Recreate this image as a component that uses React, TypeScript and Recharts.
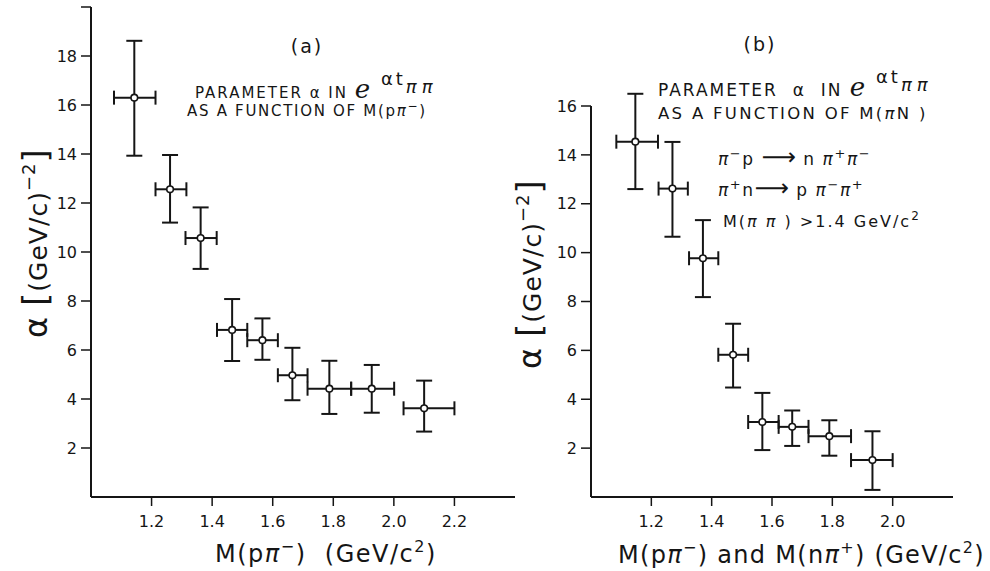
import React from 'react';
import { ScatterChart, Scatter, XAxis, YAxis, ErrorBar } from 'recharts';

// (a) alpha as a function of M(p pi-)
const massA = [1.143, 1.261, 1.362, 1.466, 1.566, 1.665, 1.787, 1.927, 2.1];
const massLowA = [1.076, 1.213, 1.312, 1.416, 1.516, 1.617, 1.715, 1.859, 2.032];
const massHighA = [1.213, 1.315, 1.415, 1.516, 1.617, 1.715, 1.859, 2.001, 2.2];
const alphaA = [16.3, 12.56, 10.57, 6.82, 6.4, 4.97, 4.42, 4.42, 3.62];
const alphaLowA = [13.93, 11.2, 9.31, 5.55, 5.6, 3.95, 3.39, 3.44, 2.67];
const alphaHighA = [18.62, 13.96, 11.82, 8.08, 7.29, 6.09, 5.56, 5.39, 4.75];

// (b) alpha as a function of M(pi N)
const massB = [1.147, 1.27, 1.371, 1.471, 1.568, 1.667, 1.79, 1.933];
const massLowB = [1.084, 1.224, 1.325, 1.422, 1.521, 1.622, 1.721, 1.862];
const massHighB = [1.222, 1.321, 1.422, 1.521, 1.622, 1.721, 1.862, 2.0];
const alphaB = [14.54, 12.62, 9.77, 5.82, 3.07, 2.87, 2.49, 1.51];
const alphaLowB = [12.6, 10.65, 8.18, 4.48, 1.92, 2.09, 1.69, 0.29];
const alphaHighB = [16.5, 14.53, 11.33, 7.09, 4.26, 3.54, 3.14, 2.69];

const ticksXA = [1.2, 1.4, 1.6, 1.8, 2.0, 2.2];
const ticksXB = [1.2, 1.4, 1.6, 1.8, 2.0];
const ticksYA = [2, 4, 6, 8, 10, 12, 14, 16, 18, 20];
const ticksYB = [2, 4, 6, 8, 10, 12, 14, 16];

const FONT = '"DejaVu Sans", sans-serif';
const INK = '#151515';

const toPoints = (x: number[], xl: number[], xh: number[], y: number[], yl: number[], yh: number[]) =>
  x.map((v, i) => ({
    x: v,
    y: y[i],
    ex: [v - xl[i], xh[i] - v],
    ey: [y[i] - yl[i], yh[i] - y[i]],
  }));

const dataA = toPoints(massA, massLowA, massHighA, alphaA, alphaLowA, alphaHighA);
const dataB = toPoints(massB, massLowB, massHighB, alphaB, alphaLowB, alphaHighB);

const OpenDot = (props: any) => {
  const { cx, cy } = props;
  if (cx == null || cy == null) return null;
  return <circle cx={cx} cy={cy} r={3.3} fill="#fff" stroke={INK} strokeWidth={1.6} />;
};

interface PanelProps {
  data: any[];
  width: number;
  xDomain: [number, number];
  yDomain: [number, number];
  xTicks: number[];
  yTicks: number[];
  top: number;
  right: number;
  hideY?: number;
}

const Panel = ({ data, width, xDomain, yDomain, xTicks, yTicks, top, right, hideY }: PanelProps) => (
  <ScatterChart width={width} height={571} margin={{ top, right, bottom: 0, left: 0 }}>
    <XAxis
      type="number"
      dataKey="x"
      domain={xDomain}
      ticks={xTicks}
      interval={0}
      allowDataOverflow
      height={74}
      tickSize={9}
      tickMargin={10}
      tickFormatter={(v: number) => v.toFixed(1)}
      axisLine={{ stroke: INK, strokeWidth: 2 }}
      tickLine={{ stroke: INK, strokeWidth: 1.5 }}
      tick={{ fill: INK, fontSize: 16, fontFamily: FONT }}
    />
    <YAxis
      type="number"
      dataKey="y"
      domain={yDomain}
      ticks={yTicks}
      interval={0}
      allowDataOverflow
      width={91}
      tickSize={10}
      tickMargin={4}
      tickFormatter={(v: number) => (v === hideY ? '' : String(v))}
      axisLine={{ stroke: INK, strokeWidth: 2 }}
      tickLine={{ stroke: INK, strokeWidth: 1.5 }}
      tick={{ fill: INK, fontSize: 16, fontFamily: FONT }}
    />
    <Scatter data={data} shape={OpenDot} isAnimationActive={false}>
      <ErrorBar dataKey="ex" direction="x" width={7} stroke={INK} strokeWidth={2} isAnimationActive={false} />
      <ErrorBar dataKey="ey" direction="y" width={8} stroke={INK} strokeWidth={2} isAnimationActive={false} />
    </Scatter>
  </ScatterChart>
);

// text placed by its baseline
const Txt = ({ left, base, size = 15, spacing = 1.5, center, children }: any) => (
  <div
    style={{
      position: 'absolute',
      left: center != null ? center - 150 : left,
      width: center != null ? 300 : undefined,
      textAlign: center != null ? 'center' : 'left',
      top: base - 0.846 * size,
      fontSize: size,
      lineHeight: 1,
      letterSpacing: spacing,
      whiteSpace: 'nowrap',
      fontFamily: FONT,
      color: INK,
    }}
  >
    {children}
  </div>
);

const Up = ({ by, size, italic, spacing, children }: any) => (
  <span
    style={{
      position: 'relative',
      top: -by,
      fontSize: size,
      lineHeight: 1,
      fontStyle: italic ? 'italic' : 'normal',
      letterSpacing: spacing,
    }}
  >
    {children}
  </span>
);

const Pi = ({ children = 'π' }: any) => <span style={{ fontStyle: 'italic' }}>{children}</span>;

const Arrow = () => <span style={{ fontSize: 24, letterSpacing: 0 }}>⟶</span>;

const Exponent = () => (
  <>
    <span style={{ fontStyle: 'italic', fontSize: 26, lineHeight: 1, fontFamily: '"DejaVu Serif", serif' }}>e</span>
    <Up by={13} size={18} spacing={3}>
      {' '}αt
    </Up>
    <Up by={5} size={18} italic spacing={5}>
      ππ
    </Up>
  </>
);

// rotated y-axis label, read from bottom to top
const YLabel = ({ left, bottom }: { left: number; bottom: number }) => (
  <div
    style={{
      position: 'absolute',
      left,
      top: bottom,
      transformOrigin: 'left top',
      transform: 'rotate(-90deg)',
      whiteSpace: 'nowrap',
      fontFamily: FONT,
      color: INK,
      fontSize: 25,
      lineHeight: 1,
      letterSpacing: 1,
    }}
  >
    <span style={{ fontSize: 32 }}>α</span>
    <span style={{ marginLeft: 10, fontSize: 34 }}>[</span>
    (GeV/c)
    <Up by={12} size={18}>
      −2
    </Up>
    <span style={{ fontSize: 34 }}>]</span>
  </div>
);

export default function App() {
  return (
    <div style={{ position: 'absolute', left: 0, top: 0, width: 990, height: 571, background: '#fff', overflow: 'hidden' }}>
      <div style={{ position: 'absolute', left: 0, top: 0 }}>
        <Panel
          data={dataA}
          width={530}
          xDomain={[1.0, 2.4]}
          yDomain={[0, 20]}
          xTicks={ticksXA}
          yTicks={ticksYA}
          top={7}
          right={15}
          hideY={20}
        />
      </div>
      <div style={{ position: 'absolute', left: 500, top: 0 }}>
        <Panel
          data={dataB}
          width={460}
          xDomain={[1.0, 2.2]}
          yDomain={[0, 16]}
          xTicks={ticksXB}
          yTicks={ticksYB}
          top={106}
          right={7}
        />
      </div>

      {/* panel (a) notes */}
      <Txt center={307} base={53} size={19} spacing={2}>(a)</Txt>
      <Txt left={195} base={89} size={15} spacing={2}>
        PARAMETER α IN <Exponent />
      </Txt>
      <Txt left={187} base={117} size={15} spacing={1.7}>
        AS A FUNCTION OF M(p<Pi />
        <Up by={6} size={12}>−</Up>)
      </Txt>

      {/* panel (b) notes */}
      <Txt center={760} base={51} size={19} spacing={2}>(b)</Txt>
      <Txt left={658} base={88} size={17} spacing={2}>
        PARAMETER&nbsp; α&nbsp; IN <Exponent />
      </Txt>
      <Txt left={658} base={120} size={16.5} spacing={2.3}>
        AS A FUNCTION OF M(<Pi />N )
      </Txt>
      <Txt left={718} base={159} size={17} spacing={1.6}>
        <Pi />
        <Up by={7} size={13}>−</Up>p <Arrow /> n <Pi />
        <Up by={7} size={13}>+</Up>
        <Pi />
        <Up by={7} size={13}>−</Up>
      </Txt>
      <Txt left={718} base={190} size={17} spacing={1.6}>
        <Pi />
        <Up by={7} size={13}>+</Up>n<Arrow /> p <Pi />
        <Up by={7} size={13}>−</Up>
        <Pi />
        <Up by={7} size={13}>+</Up>
      </Txt>
      <Txt left={723} base={228} size={16} spacing={2}>
        M(<Pi /> <Pi /> ) &gt;1.4 GeV/c<Up by={7} size={12}>2</Up>
      </Txt>

      {/* axis titles */}
      <Txt left={215} base={562} size={24} spacing={1.5}>
        M(p<Pi />
        <Up by={10} size={16}>−</Up>) &nbsp;(GeV/c<Up by={10} size={16}>2</Up>)
      </Txt>
      <Txt left={618} base={563} size={24} spacing={1.3}>
        M(p<Pi />
        <Up by={10} size={16}>−</Up>) and M(n<Pi />
        <Up by={10} size={16}>+</Up>) (GeV/c<Up by={10} size={16}>2</Up>)
      </Txt>
      <YLabel left={18} bottom={338} />
      <YLabel left={512} bottom={369} />
    </div>
  );
}
